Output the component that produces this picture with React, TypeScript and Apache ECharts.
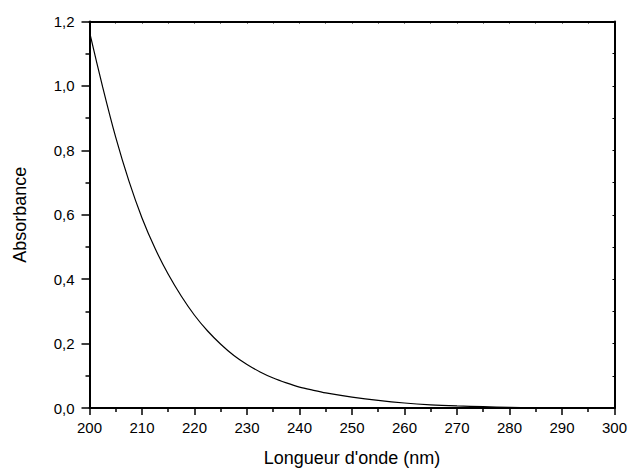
import React, { useEffect, useRef } from "react";
import * as echarts from "echarts";

const wavelengths = [200, 202.5, 205, 207.5, 210, 212.5, 215, 217.5, 220, 222.5, 225, 227.5, 230, 232.5, 235, 237.5, 240, 242.5, 245, 250, 255, 260, 265, 270, 275, 280, 285];
const absorbance = [1.168, 0.997, 0.84, 0.705, 0.59, 0.495, 0.415, 0.347, 0.288, 0.239, 0.198, 0.163, 0.135, 0.112, 0.093, 0.078, 0.065, 0.0555, 0.047, 0.034, 0.0235, 0.0155, 0.01, 0.0065, 0.004, 0.002, 0.0];

const xTitle = "Longueur d'onde (nm)";
const yTitle = "Absorbance";

export default function App() {
  const ref = useRef<HTMLDivElement>(null);
  useEffect(() => {
    if (!ref.current) return;
    const chart = echarts.init(ref.current, null, { renderer: "svg" });
    const font = "'Liberation Sans', Arial, sans-serif";
    const lineStyle = { color: "#000", width: 2 };
    chart.setOption({
      animation: false,
      backgroundColor: "#fff",
      grid: { left: 89.5, right: 13.3, top: 21.5, bottom: 60.3, containLabel: false },
      xAxis: [
        {
          type: "value",
          min: 200,
          max: 300,
          interval: 10,
          position: "bottom",
          name: xTitle,
          nameLocation: "middle",
          nameGap: 41,
          nameTextStyle: { fontFamily: font, fontSize: 18, color: "#000" },
          axisLine: { show: true, onZero: false, lineStyle },
          axisTick: { show: true, inside: false, length: 7, lineStyle: { color: "#000", width: 1.5 } },
          minorTick: { show: true, splitNumber: 2, length: 4, lineStyle: { color: "#000", width: 1.5 } },
          axisLabel: { fontFamily: font, fontSize: 15, color: "#000", margin: 12 },
          splitLine: { show: false },
        },
        {
          type: "value",
          min: 200,
          max: 300,
          interval: 5,
          position: "top",
          axisLine: { show: true, onZero: false, lineStyle },
          axisTick: { show: true, inside: true, length: 2, lineStyle: { color: "#000", width: 1 } },
          axisLabel: { show: false },
          splitLine: { show: false },
        },
      ],
      yAxis: [
        {
          type: "value",
          min: 0,
          max: 1.2,
          interval: 0.2,
          position: "left",
          name: yTitle,
          nameLocation: "middle",
          nameGap: 61,
          nameTextStyle: { fontFamily: font, fontSize: 18, color: "#000" },
          axisLine: { show: true, onZero: false, lineStyle },
          axisTick: { show: true, inside: false, length: 8, lineStyle: { color: "#000", width: 1.5 } },
          minorTick: { show: true, splitNumber: 2, length: 4, lineStyle: { color: "#000", width: 1.5 } },
          axisLabel: {
            fontFamily: font,
            fontSize: 15,
            color: "#000",
            margin: 15,
            formatter: (v: number) => v.toFixed(1).replace(".", ","),
          },
          splitLine: { show: false },
        },
        {
          type: "value",
          min: 0,
          max: 1.2,
          interval: 0.1,
          position: "right",
          axisLine: { show: true, onZero: false, lineStyle },
          axisTick: { show: true, inside: true, length: 2, lineStyle: { color: "#000", width: 1 } },
          axisLabel: { show: false },
          splitLine: { show: false },
        },
      ],
      series: [
        {
          type: "line",
          xAxisIndex: 0,
          yAxisIndex: 0,
          data: wavelengths.map((w, i) => [w, absorbance[i]]),
          smooth: 0.3,
          showSymbol: false,
          lineStyle: { color: "#000", width: 1.2 },
        },
      ],
    });
    return () => chart.dispose();
  }, []);
  return (
    <div
      ref={ref}
      style={{ position: "fixed", left: 0, top: 0, width: 630, height: 472 }}
    />
  );
}
